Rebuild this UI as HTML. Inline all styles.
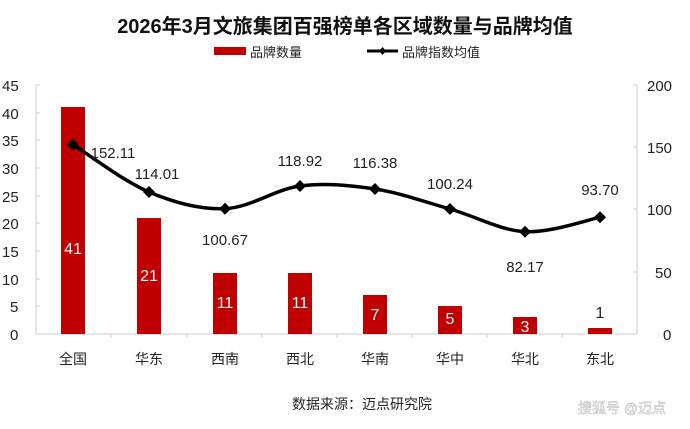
<!DOCTYPE html>
<html><head><meta charset="utf-8"><style>
body{margin:0;background:#fff}
svg{display:block;font-family:"Liberation Sans","Noto Sans CJK SC",sans-serif}
</style></head><body>
<svg width="690" height="429" viewBox="0 0 690 429">
<rect width="690" height="429" fill="#fff"/>
<text x="345" y="33" font-size="20" font-weight="bold" text-anchor="middle" fill="#111">2026年3月文旅集团百强榜单各区域数量与品牌均值</text>
<rect x="214" y="47" width="32" height="8" fill="#c00000"/>
<text x="250" y="57" font-size="13" fill="#222">品牌数量</text>
<line x1="367" y1="51" x2="398" y2="51" stroke="#000" stroke-width="3"/>
<path d="M382.5 47 L386 51 L382.5 55 L379 51Z" fill="#000"/>
<text x="402" y="57" font-size="13" fill="#222">品牌指数均值</text>
<g font-size="15" fill="#222">
<text x="2" y="91">45</text><text x="2" y="119">40</text><text x="2" y="146">35</text><text x="2" y="174">30</text><text x="2" y="202">25</text><text x="2" y="229">20</text><text x="2" y="257">15</text><text x="2" y="285">10</text><text x="10" y="312">5</text><text x="10" y="340">0</text>
<text x="647" y="91">200</text><text x="647" y="153">150</text><text x="647" y="215">100</text><text x="655" y="278">50</text><text x="663" y="340">0</text>
</g>
<g stroke="#ccc" stroke-width="1" fill="none">
<path d="M36 85 V334 H637 V85"/>
<path d="M36 85h4M36 113h4M36 140h4M36 168h4M36 196h4M36 223h4M36 251h4M36 279h4M36 306h4"/>
<path d="M637 85h-4M637 147h-4M637 209h-4M637 272h-4"/>
<path d="M111 334v4M187 334v4M262 334v4M337 334v4M412 334v4M487 334v4M562 334v4"/>
</g>
<g fill="#c00000">
<rect x="61" y="107" width="24" height="227"/>
<rect x="137" y="218" width="24" height="116"/>
<rect x="213" y="273" width="24" height="61"/>
<rect x="288" y="273" width="24" height="61"/>
<rect x="363" y="295" width="24" height="39"/>
<rect x="438" y="306" width="24" height="28"/>
<rect x="513" y="317" width="24" height="17"/>
<rect x="588" y="328" width="24" height="6"/>
</g>
<g font-size="16" fill="#fff" text-anchor="middle">
<text x="73" y="254">41</text><text x="149" y="281">21</text><text x="225" y="308">11</text><text x="300" y="308">11</text><text x="375" y="320">7</text><text x="450" y="324">5</text><text x="525" y="332">3</text>
</g>
<text x="600" y="318" font-size="16" fill="#222" text-anchor="middle">1</text>
<path d="M73 144.6 C85.7 152.5 123.7 181.3 149 192 C174.3 202.7 199.8 209.7 225 208.7 C250.2 207.7 275 189.3 300 186 C325 182.7 350 185.2 375 189 C400 192.8 425 201.9 450 209 C475 216.1 500 230.3 525 231.7 C550 233.1 587.5 219.7 600 217.3" fill="none" stroke="#000" stroke-width="3.5"/>
<g fill="#000">
<path d="M73 138.6 L79 144.6 L73 150.6 L67 144.6Z"/>
<path d="M149 186 L155 192 L149 198 L143 192Z"/>
<path d="M225 202.7 L231 208.7 L225 214.7 L219 208.7Z"/>
<path d="M300 180 L306 186 L300 192 L294 186Z"/>
<path d="M375 183 L381 189 L375 195 L369 189Z"/>
<path d="M450 203 L456 209 L450 215 L444 209Z"/>
<path d="M525 225.7 L531 231.7 L525 237.7 L519 231.7Z"/>
<path d="M600 211.3 L606 217.3 L600 223.3 L594 217.3Z"/>
</g>
<g font-size="15" fill="#222" text-anchor="middle">
<text x="113" y="158">152.11</text><text x="157" y="179">114.01</text><text x="225" y="245">100.67</text><text x="300" y="166">118.92</text><text x="375" y="168">116.38</text><text x="450" y="189">100.24</text><text x="525" y="272">82.17</text><text x="600" y="195">93.70</text>
</g>
<g font-size="14" fill="#222" text-anchor="middle">
<text x="73" y="364">全国</text><text x="149" y="364">华东</text><text x="225" y="364">西南</text><text x="300" y="364">西北</text><text x="375" y="364">华南</text><text x="450" y="364">华中</text><text x="525" y="364">华北</text><text x="600" y="364">东北</text>
</g>
<text x="362" y="409" font-size="14" fill="#222" text-anchor="middle">数据来源：迈点研究院</text>
<text x="622" y="413" font-size="14" fill="#fff" stroke="#aaa" stroke-width="0.4" text-anchor="middle">搜狐号 @迈点</text>
</svg>
</body></html>
